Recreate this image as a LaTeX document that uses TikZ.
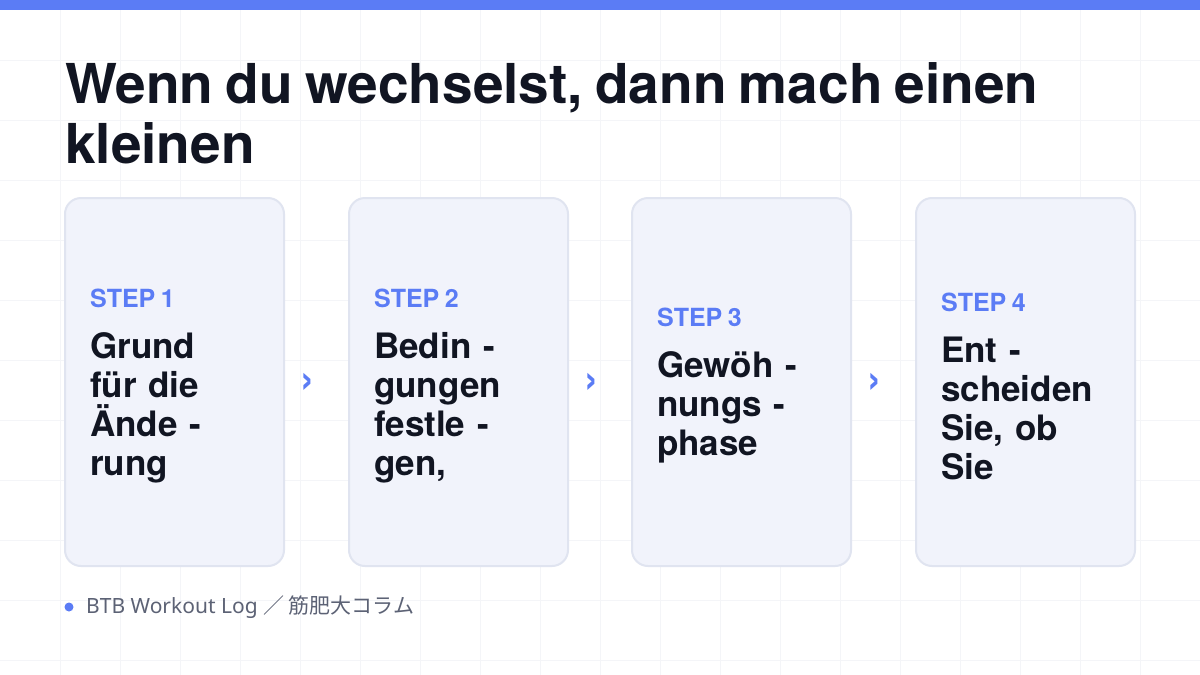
\documentclass[tikz,border=0pt]{standalone}
\usepackage{fontspec}
\setmainfont[WordSpace=0.8]{TeX Gyre Heros}
\newfontfamily\footfont{Noto Sans}
\newfontfamily\cjkfont{Noto Sans CJK JP}
\usetikzlibrary{calc}
\definecolor{accent}{HTML}{5B7CF5}
\definecolor{ink}{HTML}{111522}
\definecolor{cardfill}{HTML}{F1F3FB}
\definecolor{cardline}{HTML}{E0E4F0}
\definecolor{gridcol}{HTML}{F4F5F8}
\definecolor{footgray}{HTML}{5C6275}
\newcommand\steptext[2]{{\color{accent}\fontsize{25}{28}\selectfont STEP\hspace{0.22em}#1}\\[12pt]#2}

\begin{document}
\begin{tikzpicture}[x=1pt,y=-1pt,
  card/.style={draw=cardline,line width=2pt,fill=cardfill,rounded corners=16pt},
  content/.style={anchor=west,inner sep=0pt,text width=190pt,align=left,text=ink,
    font=\fontsize{35}{39}\selectfont\bfseries},
  chev/.style={text=accent,font=\fontsize{42}{42}\selectfont\bfseries,inner sep=0pt}]

\useasboundingbox (0,0) rectangle (1200,675);
\fill[white] (0,0) rectangle (1200,675);
\foreach \x in {60,120,...,1140} \draw[gridcol,line width=1pt] (\x,0) -- (\x,675);
\foreach \y in {60,120,...,660} \draw[gridcol,line width=1pt] (0,\y) -- (1200,\y);
\fill[accent] (0,0) rectangle (1200,10);

\node[anchor=base west,inner sep=0pt,text=ink,align=left,font=\fontsize{55}{60}\selectfont\bfseries] (title) at (65,163) {Wenn du wechselst, dann mach einen\\kleinen};

\draw[card] (65,198) rectangle (284,566);
\draw[card] (349,198) rectangle (568,566);
\draw[card] (632,198) rectangle (851,566);
\draw[card] (916,198) rectangle (1135,566);

\node[content] (s1) at (90,386) {\steptext{1}{Grund\\für die\\Ände -\\rung}};
\node[content] (s2) at (374,386) {\steptext{2}{Bedin -\\gungen\\festle -\\gen,}};
\node[content] (s3) at (657,386) {\steptext{3}{Gewöh -\\nungs -\\phase}};
\node[content] (s4) at (941,386) {\steptext{4}{Ent -\\scheiden\\Sie, ob\\Sie}};

\node[chev] (c1) at (307,383) {›};
\node[chev] (c2) at (591,383) {›};
\node[chev] (c3) at (874,383) {›};

\fill[accent] (69,607) circle (4.5);
\node[anchor=west,inner sep=0pt,text=footgray,font=\footfont\fontsize{21}{24}\selectfont] (foot) at (86,607) {BTB Workout Log {\cjkfont ／ 筋肥大コラム}};

\end{tikzpicture}
\end{document}
